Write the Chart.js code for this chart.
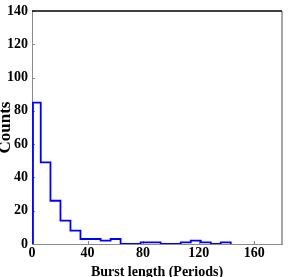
<!DOCTYPE html>
<html>
<head>
<meta charset="utf-8">
<script src="https://cdn.jsdelivr.net/npm/chart.js@4"></script>
<style>
html, body { margin: 0; padding: 0; background: #fff; }
</style>
</head>
<body>
<canvas id="burstHist" width="291" height="277"></canvas>
<script>
// histogram of burst lengths
const binEdges = [0.7, 6.3, 13.3, 20.5, 27.7, 34.9, 42.1, 49.4, 56.6, 63.8, 71.0,
                  78.2, 85.4, 92.6, 99.8, 107.1, 114.3, 121.5, 128.7, 135.9, 143.1];
const counts = [85, 49, 26, 14, 8, 3, 3, 2, 3, 0, 0, 1, 1, 0, 0, 1, 2, 1, 0, 1];
const xTicks = [0, 40, 80, 120, 160];
const yTicks = [0, 20, 40, 60, 80, 100, 120, 140];

const serif = 'Liberation Serif, Times New Roman, serif';
const axisGray = '#8a8a8a';

// outline points for a step histogram
function outlinePoints(edges, values) {
    const pts = [{x: edges[0], y: 0}];
    values.forEach((v, i) => pts.push({x: edges[i], y: v}));
    pts.push({x: edges[edges.length - 1], y: 0});
    return pts;
}

const frame = {
    id: 'frame',
    beforeDatasetsDraw(chart) {
        const {ctx, chartArea: a, scales: {x, y}} = chart;
        ctx.save();
        ctx.strokeStyle = axisGray;
        ctx.lineWidth = 1;
        ctx.beginPath();
        y.ticks.forEach(t => {
            const py = Math.round(y.getPixelForValue(t.value)) + 0.5;
            ctx.moveTo(a.left, py);
            ctx.lineTo(a.left + 3, py);
        });
        x.ticks.forEach(t => {
            const px = Math.round(x.getPixelForValue(t.value)) + 0.5;
            ctx.moveTo(px, a.bottom);
            ctx.lineTo(px, a.bottom - 3);
        });
        ctx.stroke();
        ctx.lineWidth = 1.5;
        ctx.beginPath();
        ctx.moveTo(a.right, a.top);
        ctx.lineTo(a.right, a.bottom);
        ctx.stroke();
        ctx.strokeStyle = '#000';
        ctx.beginPath();
        ctx.moveTo(a.left, a.top);
        ctx.lineTo(a.right, a.top);
        ctx.stroke();
        ctx.restore();
    }
};

new Chart(document.getElementById('burstHist').getContext('2d'), {
    type: 'line',
    data: {
        datasets: [{
            data: outlinePoints(binEdges, counts),
            stepped: 'before',
            borderColor: '#0000ff',
            borderWidth: 1.8,
            pointRadius: 0,
            fill: false
        }]
    },
    options: {
        responsive: false,
        animation: false,
        plugins: { legend: { display: false }, tooltip: { enabled: false } },
        layout: { padding: { top: 8, right: 9, left: 0, bottom: 0 } },
        scales: {
            x: {
                type: 'linear',
                min: 0,
                max: 180,
                grid: { display: false, drawTicks: false },
                border: { display: true, color: axisGray, width: 1 },
                afterBuildTicks: (scale) => { scale.ticks = xTicks.map(v => ({value: v})); },
                afterFit: (scale) => { scale.height = 33; },
                ticks: {
                    color: '#000',
                    padding: 2,
                    maxRotation: 0,
                    font: { family: serif, size: 14, weight: 'bold', lineHeight: 1 }
                },
                title: {
                    display: true,
                    text: 'Burst length (Periods)',
                    color: '#000',
                    padding: { top: 0, bottom: -2 },
                    font: { family: serif, size: 14, weight: 'bold', lineHeight: 1 }
                }
            },
            y: {
                min: 0,
                max: 140,
                grid: { display: false, drawTicks: false },
                border: { display: true, color: axisGray, width: 1 },
                afterBuildTicks: (scale) => { scale.ticks = yTicks.map(v => ({value: v})); },
                afterFit: (scale) => { scale.width = 32; },
                ticks: {
                    color: '#000',
                    padding: 4,
                    font: { family: serif, size: 14, weight: 'bold', lineHeight: 1 }
                },
                title: {
                    display: true,
                    text: 'Counts',
                    color: '#000',
                    padding: { top: -3, bottom: 0 },
                    font: { family: serif, size: 17, weight: 'bold', lineHeight: 1 }
                }
            }
        }
    },
    plugins: [frame]
});
</script>
</body>
</html>
